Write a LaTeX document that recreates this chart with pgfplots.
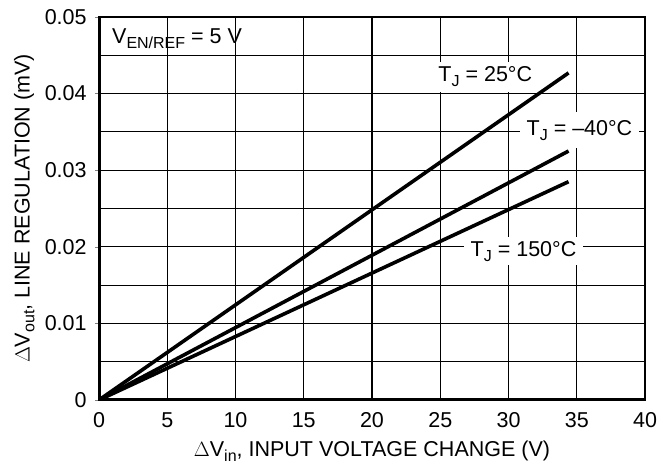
\documentclass[border=0pt]{standalone}
\usepackage{fontspec}
\setmainfont{Liberation Sans}
\usepackage{pgfplots}
\pgfplotsset{compat=1.18}
\newcommand{\sub}[1]{\raisebox{-0.22em}{\fontsize{16bp}{16bp}\selectfont #1}}

\begin{document}
\fontsize{21.5bp}{25bp}\selectfont
\begin{tikzpicture}[font=\fontsize{21.5bp}{25bp}\selectfont]
\begin{axis}[
    scale only axis,
    width=546bp,
    height=383bp,
    xmin=0, xmax=40,
    ymin=0, ymax=0.05,
    xtick={0,5,10,15,20,25,30,35,40},
    ytick={0,0.01,0.02,0.03,0.04,0.05},
    minor ytick={0.005,0.015,0.025,0.035,0.045},
    yticklabels={0,0.01,0.02,0.03,0.04,0.05},
    scaled y ticks=false,
    xmajorgrids, ymajorgrids, yminorgrids,
    grid style={black, line width=1.1bp},
    minor grid style={black, line width=1.1bp},
    axis line style={line width=1.3bp},
    tick align=outside,
    major tick length=4bp,
    minor tick length=0pt,
    ytick pos=left,
    xtick pos=bottom,
    xtick style={draw=none},
    /pgf/number format/assume math mode=true,
    xticklabel style={yshift=-1bp},
    yticklabel style={xshift=-1bp},
    xlabel={$\Delta$V\sub{in}, INPUT VOLTAGE CHANGE (V)},
    ylabel={$\Delta$V\sub{out}, LINE REGULATION (mV)},
    xlabel style={at={(axis description cs:0.5,-0.133)}, anchor=center},
    ylabel style={at={(axis description cs:-0.137,0.5)}, anchor=center},
]
% T_J = 25 C
\addplot[black, line width=3.6bp] coordinates {(0,0) (34.4,0.0427)};
% T_J = -40 C
\addplot[black, line width=3.6bp] coordinates {(0,0) (34.4,0.0325)};
% T_J = 150 C
\addplot[black, line width=3.6bp] coordinates {(0,0) (34.4,0.0285)};

\draw[line width=3.4bp] (rel axis cs:0,1) -- (rel axis cs:0,0) -- (rel axis cs:1,0);

\node[anchor=west, inner sep=0pt] at (axis cs:0.95,0.0472) {V\sub{EN/REF} = 5 V};
\node[fill=white, inner xsep=5bp, inner ysep=5bp] at (axis cs:28.3,0.0422) {T\sub{J} = 25°C};
\node[fill=white, inner xsep=7bp, inner ysep=8bp] at (axis cs:35.2,0.0352) {T\sub{J} = –40°C};
\node[fill=white, inner xsep=7bp, inner ysep=4bp] at (axis cs:31.1,0.0194) {T\sub{J} = 150°C};
\end{axis}
\path (current axis.south west) ++(-99bp,-74bp);
\path (current axis.north east) ++(27bp,17bp);
\end{tikzpicture}
\end{document}
